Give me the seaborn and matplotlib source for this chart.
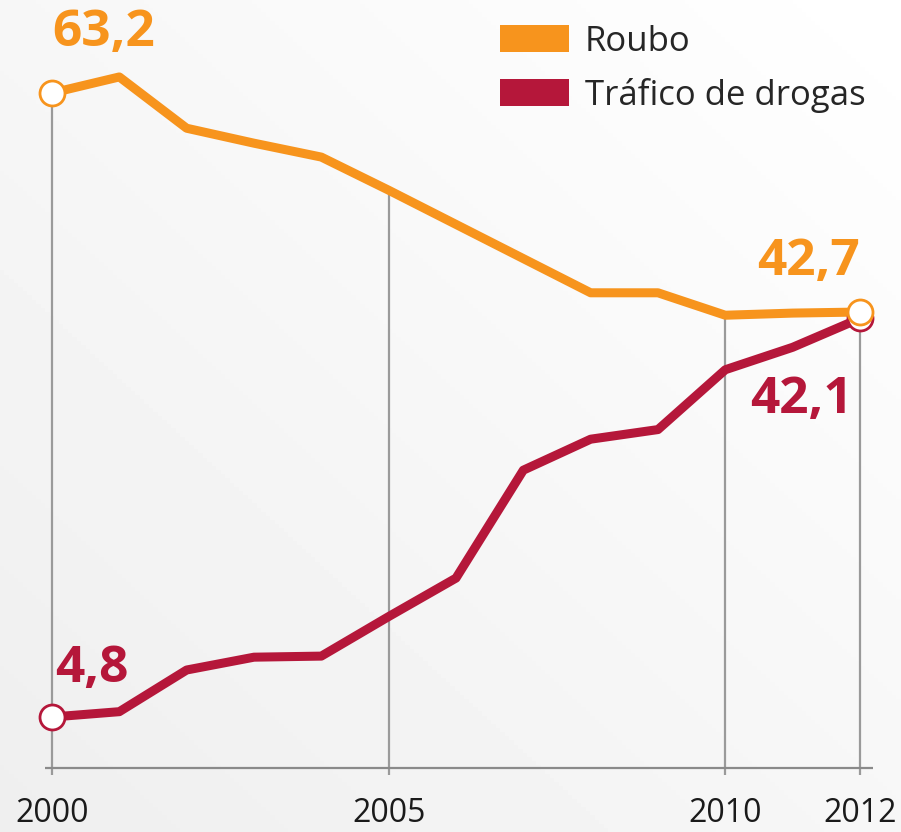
import numpy as np
import pandas as pd
import seaborn as sns
import matplotlib.pyplot as plt
from matplotlib.patches import Patch

years = [2000, 2001, 2002, 2003, 2004, 2005, 2006, 2007, 2008, 2009, 2010, 2011, 2012]
roubo = [63.2, 64.7, 59.9, 58.5, 57.2, 54.1, 50.9, 47.7, 44.5, 44.5, 42.4, 42.6, 42.7]
trafico = [4.8, 5.3, 9.2, 10.4, 10.5, 14.2, 17.8, 27.9, 30.8, 31.7, 37.3, 39.4, 42.1]
series_names = ["Roubo", "Tráfico de drogas"]
tick_years = [2000, 2005, 2010, 2012]

orange = "#F7941D"
red = "#B5173A"
colors = {"Roubo": orange, "Tráfico de drogas": red}

df = pd.DataFrame({
    "ano": years * 2,
    "valor": roubo + trafico,
    "serie": [series_names[0]] * len(years) + [series_names[1]] * len(years),
})
ends = df[df["ano"].isin([years[0], years[-1]])]

sns.set_style("white")
plt.rcParams["font.family"] = ["Open Sans", "DejaVu Sans"]

fig = plt.figure(figsize=(9.01, 8.32), dpi=100)
ax = fig.add_axes([0, 0, 1, 1])
xlim = (1999.228, 2012.609)
ylim = (-5.96, 71.9)

# light gradient background
gx, gy = np.meshgrid(np.linspace(0, 1, 200), np.linspace(0, 1, 200))
grad = 0.935 + 0.065 * np.clip((gx + (1 - gy)) / 2, 0, 1)
ax.imshow(grad, extent=(*xlim, *ylim), aspect="auto", cmap="gray",
          vmin=0, vmax=1, zorder=0, origin="upper")

# vertical guide lines up to the Roubo line, and baseline
for yr in tick_years:
    top = roubo[years.index(yr)]
    ax.vlines(yr, -0.65, top, color="#9a9a9a", lw=1.6, zorder=1)
ax.hlines(0, 1999.9, 2012.2, color="#8a8a8a", lw=1.6, zorder=1)

sns.lineplot(data=df, x="ano", y="valor", hue="serie", palette=colors,
             linewidth=6.5, legend=False, ax=ax, zorder=3)
# end markers, Roubo drawn on top
for z, name in zip([5, 4], series_names):
    sub = ends[ends["serie"] == name]
    ax.plot(sub["ano"], sub["valor"], "o", ms=18, mfc="white",
            mec=colors[name], mew=2, zorder=z, ls="none")

ax.set_xlim(*xlim)
ax.set_ylim(*ylim)
ax.axis("off")

for yr in tick_years:
    ax.text(yr, -4.2, str(yr), ha="center", va="center", fontsize=23, color="#1a1a1a")

lab = dict(fontsize=37, fontweight="bold", va="center")
ax.text(2000.0, 68.8, "63,2", color=orange, ha="left", **lab)
ax.text(2012.0, 47.4, "42,7", color=orange, ha="right", **lab)
ax.text(2011.9, 34.5, "42,1", color=red, ha="right", **lab)
ax.text(2000.05, 9.3, "4,8", color=red, ha="left", **lab)

handles = [Patch(facecolor=colors[n], edgecolor="none", label=n) for n in series_names]
ax.legend(handles=handles, loc="upper left", bbox_to_anchor=(0.52, 1.008),
          frameon=False, fontsize=25, handlelength=2.0, handleheight=0.8,
          handletextpad=0.45, labelspacing=0.55)

fig.savefig("out.png", dpi=100)
